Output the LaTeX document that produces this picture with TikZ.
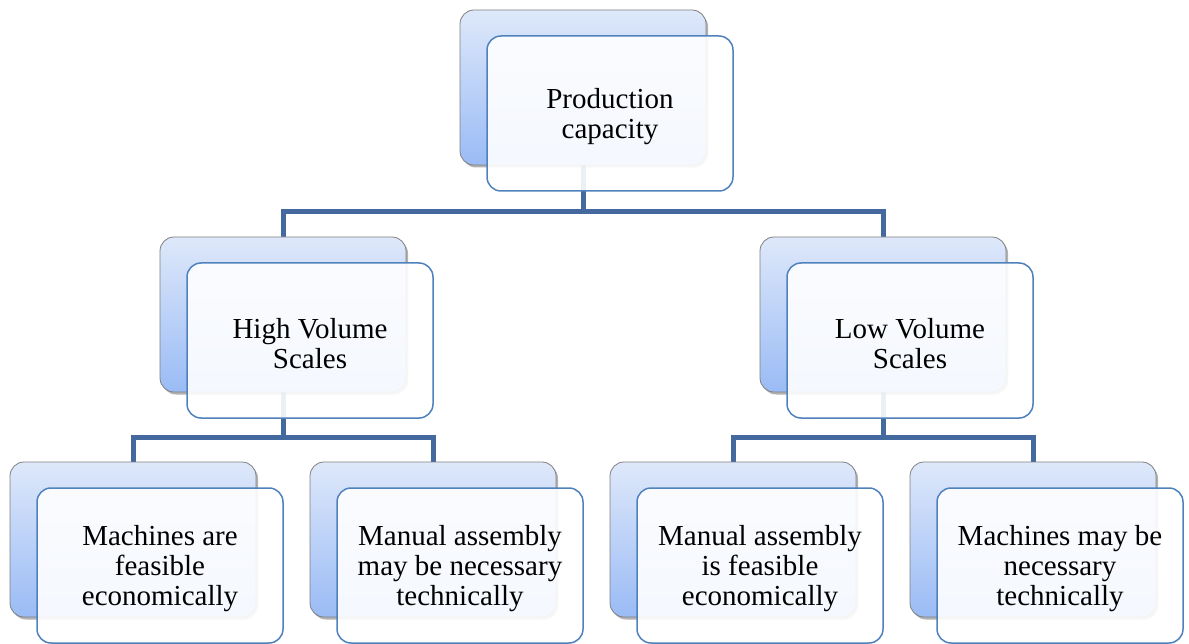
\documentclass[tikz,border=0pt]{standalone}
\usepackage{fontspec}
\setmainfont{Liberation Serif}
\usetikzlibrary{shadows}
\definecolor{linkblue}{HTML}{44699E}
\definecolor{frontedge}{HTML}{4F81BD}
\definecolor{backtop}{HTML}{DEE8FA}
\definecolor{backbot}{HTML}{9ABBF5}
\tikzset{
  backbox/.style={rectangle, rounded corners=14pt, minimum width=246pt, minimum height=155pt, inner sep=0pt,
    draw=gray, line width=0.8pt, top color=backtop, bottom color=backbot,
    drop shadow={shadow xshift=2pt, shadow yshift=-2.5pt, opacity=0.3, fill=black}},
  frontbox/.style={rectangle, rounded corners=14pt, minimum width=246pt, minimum height=155pt, inner sep=0pt,
    draw=frontedge, line width=1.5pt, fill=white, fill opacity=0.9, text opacity=1,
    align=center, font=\fontsize{29}{30}\selectfont},
  boxtext/.style={label={[align=center, font=\fontsize{29}{30}\selectfont, yshift=-3pt, text opacity=1]center:#1}},
  link/.style={draw=linkblue, line width=5pt}
}
\begin{document}
\begin{tikzpicture}[x=1pt,y=-1pt]
\useasboundingbox (0,0) rectangle (1189,644);
\coordinate (pbc) at (583,87.5);
\coordinate (hbc) at (283,314.5);
\coordinate (lbc) at (883,314.5);
\coordinate (m1c) at (133,539.5);
\coordinate (m2c) at (433,539.5);
\coordinate (m3c) at (733,539.5);
\coordinate (m4c) at (1033,539.5);
% connectors
\draw[link] (pbc) -- (583,212) coordinate (j1);
\draw[link] (hbc) |- (j1) -| (lbc);
\draw[link] (hbc) -- (283,437) coordinate (j2);
\draw[link] (m1c) |- (j2) -| (m2c);
\draw[link] (lbc) -- (883,437) coordinate (j3);
\draw[link] (m3c) |- (j3) -| (m4c);
% back boxes
\node[backbox] (pb) at (pbc) {};
\node[backbox] (hb) at (hbc) {};
\node[backbox] (lb) at (lbc) {};
\node[backbox] (b1) at (m1c) {};
\node[backbox] (b2) at (m2c) {};
\node[backbox] (b3) at (m3c) {};
\node[backbox] (b4) at (m4c) {};
% front boxes
\node[frontbox, boxtext={Production\\capacity}] (pf) at (610,113.5) {};
\node[frontbox, boxtext={High Volume\\Scales}] (hf) at (310,340.5) {};
\node[frontbox, boxtext={Low Volume\\Scales}] (lf) at (910,340.5) {};
\node[frontbox, boxtext={Machines are\\feasible\\economically}] (f1) at (160,565.5) {};
\node[frontbox, boxtext={Manual assembly\\may be necessary\\technically}] (f2) at (460,565.5) {};
\node[frontbox, boxtext={Manual assembly\\is feasible\\economically}] (f3) at (760,565.5) {};
\node[frontbox, boxtext={Machines may be\\necessary\\technically}] (f4) at (1060,565.5) {};
\end{tikzpicture}
\end{document}
